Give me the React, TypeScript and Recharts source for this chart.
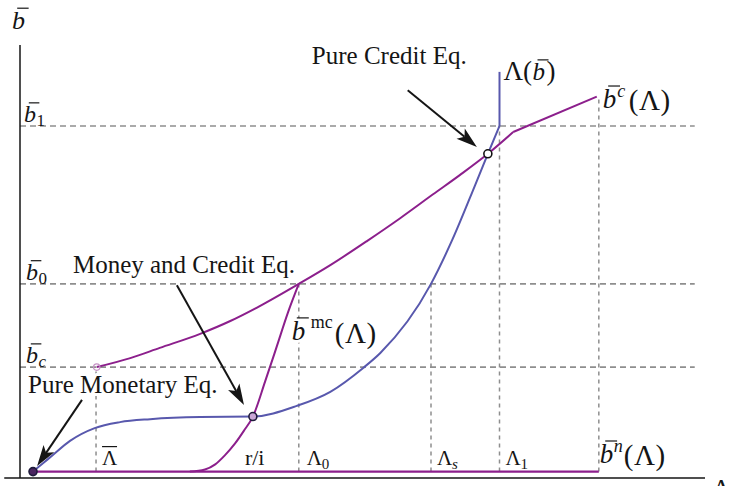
import React from "react";
import {
  ComposedChart,
  Line,
  XAxis,
  YAxis,
  ReferenceLine,
  ReferenceDot,
} from "recharts";

const purple = "#8c1f8c";
const blue = "#5858ad";
const ink = "#151515";
const guide = "#8e8e8e";
const serif = "'Liberation Serif', 'Times New Roman', serif";

// b̄ levels on the vertical axis
const B1 = 8.1;
const B0 = 4.4;
const BC = 2.45;
const Y_TOP = 10;
const Y_BOTTOM = -0.15;

// Λ values on the horizontal axis
const LAMBDA_BAR = 1.11;
const RI = 3.4;
const LAMBDA_0 = 4.07;
const LAMBDA_S = 6.0;
const LAMBDA_1 = 7.0;
const LAMBDA_END = 8.45;
const X_MAX = 10;
const GUIDE_END = 9.85;

// b̄^c(Λ): curved part up to the kink, then a straight piece
const creditCurve = [
  { x: 1.12, y: 2.45 },
  { x: 1.61, y: 2.66 },
  { x: 2.04, y: 2.9 },
  { x: 2.63, y: 3.23 },
  { x: 3.07, y: 3.53 },
  { x: 3.5, y: 3.88 },
  { x: 4.07, y: 4.4 },
  { x: 4.53, y: 4.84 },
  { x: 5.07, y: 5.41 },
  { x: 5.55, y: 5.94 },
  { x: 6.03, y: 6.5 },
  { x: 6.42, y: 6.95 },
  { x: 6.83, y: 7.45 },
  { x: 7.2, y: 7.96 },
];
const creditTail = [
  { x: 7.2, y: 7.96 },
  { x: 8.42, y: 8.79 },
];

// b̄^mc(Λ)
const mixedCurve = [
  { x: 2.48, y: 0 },
  { x: 2.7, y: 0.05 },
  { x: 2.85, y: 0.17 },
  { x: 2.99, y: 0.38 },
  { x: 3.14, y: 0.66 },
  { x: 3.27, y: 0.96 },
  { x: 3.4, y: 1.29 },
  { x: 3.58, y: 2.12 },
  { x: 3.75, y: 2.94 },
  { x: 3.91, y: 3.72 },
  { x: 4.07, y: 4.4 },
];

// Λ(b̄), then vertical at Λ1 above b̄1
const lambdaCurve = [
  { x: 0.19, y: 0 },
  { x: 0.34, y: 0.2 },
  { x: 0.48, y: 0.39 },
  { x: 0.73, y: 0.72 },
  { x: 1.09, y: 1.02 },
  { x: 1.46, y: 1.16 },
  { x: 1.9, y: 1.23 },
  { x: 2.63, y: 1.28 },
  { x: 3.4, y: 1.29 },
  { x: 4.04, y: 1.54 },
  { x: 4.53, y: 1.87 },
  { x: 5.01, y: 2.43 },
  { x: 5.26, y: 2.78 },
  { x: 6.0, y: 4.4 },
  { x: 6.31, y: 5.43 },
  { x: 6.64, y: 6.7 },
  { x: 6.83, y: 7.45 },
  { x: 7.0, y: 8.1 },
];
const lambdaTop = [
  { x: 7.0, y: 8.1 },
  { x: 7.0, y: 9.37 },
];

// b̄^n(Λ), flat at zero
const monetaryLine = [
  { x: 0.19, y: 0 },
  { x: 8.45, y: 0 },
];

const equilibria = [
  { id: "monetary", x: 0.19, y: 0 },
  { id: "mixed", x: 3.4, y: 1.29 },
  { id: "credit", x: 6.83, y: 7.45 },
];

const hGuides = [B1, B0, BC];
const vGuides = [
  { x: LAMBDA_BAR, top: BC },
  { x: LAMBDA_0, top: B0 },
  { x: LAMBDA_S, top: B0 },
  { x: LAMBDA_1, top: B1 },
  { x: LAMBDA_END, top: 8.79 },
];

// annotation arrows: tail -> head
const arrows = [
  { id: "a-mon", from: { x: 0.905, y: 1.68 }, to: { x: 0.25, y: 0.13 } },
  { id: "a-mix", from: { x: 2.29, y: 4.37 }, to: { x: 3.27, y: 1.56 } },
  { id: "a-cred", from: { x: 5.66, y: 8.94 }, to: { x: 6.67, y: 7.61 } },
];

const arrowShape = (p: any) => {
  const { x1, y1, x2, y2 } = p;
  const a = Math.atan2(y2 - y1, x2 - x1);
  const ux = Math.cos(a);
  const uy = Math.sin(a);
  const len = 21;
  const half = 6.5;
  const notch = 16;
  const bx = x2 - ux * len;
  const by = y2 - uy * len;
  const nx = x2 - ux * notch;
  const ny = y2 - uy * notch;
  const pts = [
    [x2, y2],
    [bx - uy * half, by + ux * half],
    [nx, ny],
    [bx + uy * half, by - ux * half],
  ]
    .map((q) => q.join(","))
    .join(" ");
  return (
    <g>
      <line x1={x1} y1={y1} x2={nx} y2={ny} stroke={ink} strokeWidth={2} />
      <polygon points={pts} fill={ink} />
    </g>
  );
};

const halo = {
  stroke: "#fff",
  strokeWidth: 6,
  strokeLinejoin: "round" as const,
  paintOrder: "stroke" as const,
};

// italic b with an overbar, baseline at y = 0
const BBar = ({ x = 0, size }: { x?: number; size: number }) => (
  <>
    <text x={x} y={0} fontSize={size} fontStyle="italic">
      b
    </text>
    <line
      x1={x + size * 0.2}
      x2={x + size * 0.64}
      y1={-size * 0.8}
      y2={-size * 0.8}
      stroke={ink}
      strokeWidth={1.2}
    />
  </>
);

const tag = (
  key: string,
  x: number,
  y: number,
  dx: number,
  dy: number,
  node: React.ReactNode
) => (
  <ReferenceDot
    key={key}
    x={x}
    y={y}
    r={0}
    ifOverflow="visible"
    shape={(p: any) => (
      <g
        transform={`translate(${p.cx + dx},${p.cy + dy})`}
        fontFamily={serif}
        fill={ink}
      >
        {node}
      </g>
    )}
  />
);

const lambdaTick = (key: string, x: number, dx: number, sub: string, italic = false) =>
  tag(
    key,
    x,
    0,
    dx,
    -7,
    <>
      <text x={0} y={0} fontSize={21}>
        Λ
      </text>
      <text x={15} y={4} fontSize={15} fontStyle={italic ? "italic" : "normal"}>
        {sub}
      </text>
    </>
  );

const bTick = (key: string, y: number, dx: number, sub: string, italic = false) =>
  tag(
    key,
    0,
    y,
    dx,
    -4,
    <>
      <BBar size={24} />
      <text x={12.5} y={4} fontSize={17} fontStyle={italic ? "italic" : "normal"}>
        {sub}
      </text>
    </>
  );

export default function App() {
  return (
    <div style={{ position: "absolute", left: 0, top: 0, background: "#fff" }}>
      <ComposedChart
        width={737}
        height={486}
        margin={{ top: 45, right: 32, bottom: 8, left: 20 }}
      >
        <XAxis type="number" dataKey="x" domain={[0, X_MAX]} allowDataOverflow hide />
        <YAxis type="number" domain={[Y_BOTTOM, Y_TOP]} allowDataOverflow hide />

        {hGuides.map((b) => (
          <ReferenceLine
            key={`h-${b}`}
            segment={[
              { x: 0, y: b },
              { x: GUIDE_END, y: b },
            ]}
            stroke={guide}
            strokeWidth={1.6}
            strokeDasharray="6 4"
            ifOverflow="visible"
          />
        ))}
        {vGuides.map((g) => (
          <ReferenceLine
            key={`v-${g.x}`}
            segment={[
              { x: g.x, y: 0 },
              { x: g.x, y: g.top },
            ]}
            stroke={guide}
            strokeWidth={1.5}
            strokeDasharray="4 4"
            ifOverflow="visible"
          />
        ))}

        {/* axes */}
        <ReferenceLine
          segment={[
            { x: 0, y: Y_BOTTOM },
            { x: 0, y: Y_TOP },
          ]}
          stroke={ink}
          strokeWidth={1.5}
          ifOverflow="visible"
        />
        <ReferenceLine
          segment={[
            { x: -0.23, y: Y_BOTTOM },
            { x: X_MAX, y: Y_BOTTOM },
          ]}
          stroke={ink}
          strokeWidth={1.5}
          ifOverflow="visible"
        />

        <Line data={monetaryLine} dataKey="y" type="linear" stroke={purple} strokeWidth={2.2} dot={false} activeDot={false} isAnimationActive={false} />
        <Line data={mixedCurve} dataKey="y" type="monotone" stroke={purple} strokeWidth={2} dot={false} activeDot={false} isAnimationActive={false} />
        <Line data={creditCurve} dataKey="y" type="monotone" stroke={purple} strokeWidth={2} dot={false} activeDot={false} isAnimationActive={false} />
        <Line data={creditTail} dataKey="y" type="linear" stroke={purple} strokeWidth={2} dot={false} activeDot={false} isAnimationActive={false} />
        <Line data={lambdaCurve} dataKey="y" type="monotone" stroke={blue} strokeWidth={2} dot={false} activeDot={false} isAnimationActive={false} />
        <Line data={lambdaTop} dataKey="y" type="linear" stroke={blue} strokeWidth={2} dot={false} activeDot={false} isAnimationActive={false} />

        {arrows.map((a) => (
          <ReferenceLine
            key={a.id}
            segment={[a.from, a.to]}
            ifOverflow="visible"
            shape={arrowShape}
          />
        ))}

        {/* open end of b̄^c */}
        <ReferenceDot
          x={creditCurve[0].x}
          y={creditCurve[0].y}
          r={3.2}
          fill="none"
          stroke="#c592c5"
          strokeWidth={1.2}
          ifOverflow="visible"
        />
        {equilibria.map((e) => (
          <ReferenceDot
            key={e.id}
            x={e.x}
            y={e.y}
            r={4}
            fill={e.id === "monetary" ? "#4a2460" : e.id === "mixed" ? "#c9a6d6" : "#ffffff"}
            stroke={e.id === "credit" ? "#111" : "#1e1a3a"}
            strokeWidth={1.6}
            ifOverflow="visible"
          />
        ))}

        {/* axis titles */}
        {tag("ytitle", 0, Y_TOP, -8, -16, <BBar size={26} />)}
        {tag(
          "xtitle",
          X_MAX,
          Y_BOTTOM,
          7,
          19,
          <text x={0} y={0} fontSize={26}>
            Λ
          </text>
        )}

        {/* b̄ levels */}
        {bTick("b1", B1, 4, "1")}
        {bTick("b0", B0, 6, "0")}
        {bTick("bc", BC, 6, "c", true)}

        {/* Λ marks */}
        {tag(
          "lbar",
          LAMBDA_BAR,
          0,
          6,
          -7,
          <>
            <text x={0} y={0} fontSize={21}>
              Λ
            </text>
            <line x1={0} x2={15} y1={-18} y2={-18} stroke={ink} strokeWidth={1.2} />
          </>
        )}
        {tag(
          "ri",
          RI,
          0,
          -8,
          -7,
          <text x={0} y={0} fontSize={22}>
            r/i
          </text>
        )}
        {lambdaTick("l0", LAMBDA_0, 8, "0")}
        {lambdaTick("ls", LAMBDA_S, 6, "s", true)}
        {lambdaTick("l1", LAMBDA_1, 6, "1")}

        {/* curve names */}
        {tag(
          "bn",
          LAMBDA_END,
          0,
          1,
          -9,
          <>
            <BBar size={27} />
            <text x={14} y={-11} fontSize={18} fontStyle="italic">
              n
            </text>
            <text x={24} y={2} fontSize={29} letterSpacing={0.5}>
              (Λ)
            </text>
          </>
        )}
        {tag(
          "bcname",
          creditTail[1].x,
          creditTail[1].y,
          6,
          11,
          <>
            <BBar size={27} />
            <text x={14.5} y={-11} fontSize={18} fontStyle="italic">
              c
            </text>
            <text x={26} y={2} fontSize={29} letterSpacing={0.5}>
              (Λ)
            </text>
          </>
        )}
        {tag(
          "lname",
          lambdaTop[1].x,
          lambdaTop[1].y,
          4,
          8,
          <>
            <text x={0} y={0} fontSize={27}>
              Λ(
            </text>
            <BBar x={29} size={25} />
            <text x={43} y={0} fontSize={27}>
              )
            </text>
          </>
        )}
        {tag(
          "mcname",
          LAMBDA_0,
          B0,
          -7,
          56,
          <g {...halo}>
            <text x={0} y={0} fontSize={27} fontStyle="italic">
              b
            </text>
            <text x={19} y={-12} fontSize={18}>
              mc
            </text>
            <text x={43} y={3} fontSize={29} letterSpacing={0.5}>
              (Λ)
            </text>
            <line x1={5} x2={17} y1={-22} y2={-22} stroke={ink} strokeWidth={1.2} />
          </g>
        )}

        {/* equilibrium notes */}
        {tag(
          "n-credit",
          6.83,
          7.45,
          -176,
          -90,
          <text x={0} y={0} fontSize={25}>
            Pure Credit Eq.
          </text>
        )}
        {tag(
          "n-mixed",
          3.4,
          1.29,
          -180,
          -144,
          <text x={0} y={0} fontSize={25}>
            Money and Credit Eq.
          </text>
        )}
        {tag(
          "n-mon",
          0.19,
          0,
          -5,
          -79,
          <text x={0} y={0} fontSize={25} {...halo}>
            Pure Monetary Eq.
          </text>
        )}
      </ComposedChart>
    </div>
  );
}
